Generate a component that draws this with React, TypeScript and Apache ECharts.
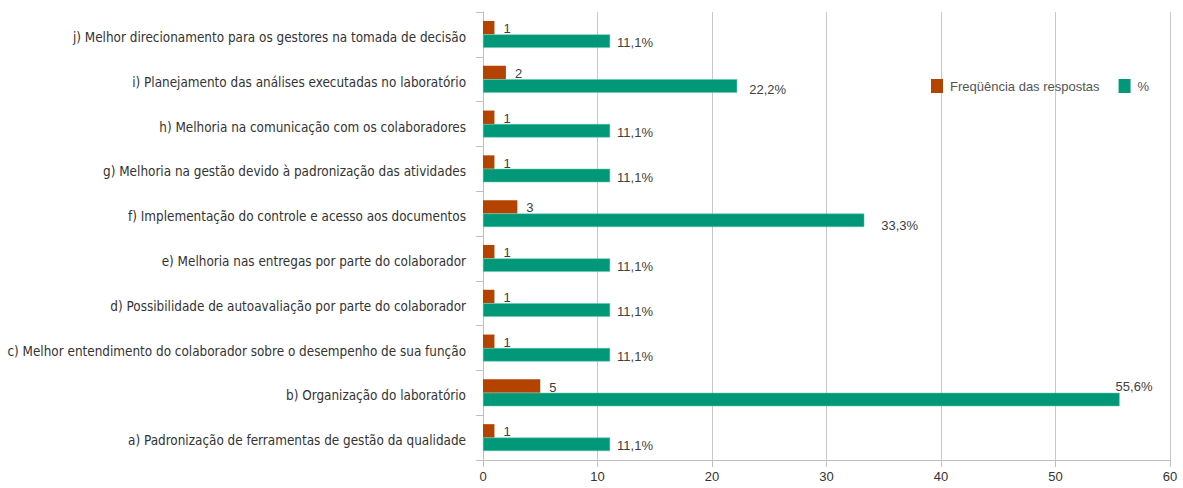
import React, { useEffect, useRef } from "react";
import * as echarts from "echarts";

const categories = [
  "a) Padronização de ferramentas de gestão da qualidade",
  "b) Organização do laboratório",
  "c) Melhor entendimento do colaborador sobre o desempenho de sua função",
  "d) Possibilidade de autoavaliação por parte do colaborador",
  "e) Melhoria nas entregas por parte do colaborador",
  "f) Implementação do controle e acesso aos documentos",
  "g) Melhoria na gestão devido à padronização das atividades",
  "h) Melhoria na comunicação com os colaboradores",
  "i) Planejamento das análises executadas no laboratório",
  "j) Melhor direcionamento para os gestores na tomada de decisão",
];
const frequencia = [1, 5, 1, 1, 1, 3, 1, 1, 2, 1];
const percentual = [11.1, 55.6, 11.1, 11.1, 11.1, 33.3, 11.1, 11.1, 22.2, 11.1];
const xTicks = { min: 0, max: 60, interval: 10 };
const seriesNames = ["Freqüência das respostas", "%"];

const LABEL_FONT = "'Liberation Sans Narrow', 'DejaVu Sans Condensed', sans-serif";
const TEXT_FONT = "'Liberation Sans', Arial, sans-serif";

export default function App() {
  const ref = useRef<HTMLDivElement>(null);
  useEffect(() => {
    if (!ref.current) return;
    const chart = echarts.init(ref.current, null, { renderer: "svg" });
    const maxIdx = percentual.indexOf(Math.max(...percentual));
    chart.setOption({
      animation: false,
      grid: {
        left: 483,
        right: 13,
        top: 12,
        bottom: 28,
        containLabel: false,
        outerBoundsMode: "none",
      },
      legend: {
        data: seriesNames,
        left: 926,
        top: 74,
        itemWidth: 12,
        itemHeight: 14,
        itemGap: 19,
        icon: "rect",
        itemStyle: { borderWidth: 0 },
        textStyle: { color: "#555", fontSize: 13, fontFamily: TEXT_FONT, padding: [3, 0, 0, 2] },
      },
      xAxis: {
        type: "value",
        min: xTicks.min,
        max: xTicks.max,
        interval: xTicks.interval,
        axisLine: { show: true, lineStyle: { color: "#bfbfbf" } },
        axisTick: { show: true, length: 7, lineStyle: { color: "#bfbfbf" } },
        axisLabel: { color: "#333", fontSize: 13, fontFamily: TEXT_FONT, margin: 10 },
        splitLine: { show: true, lineStyle: { color: "#c8c8c8" } },
      },
      yAxis: {
        type: "category",
        data: categories,
        axisLine: { show: true, lineStyle: { color: "#bfbfbf" } },
        axisTick: { show: true, length: 7, lineStyle: { color: "#bfbfbf" } },
        axisLabel: {
          color: "#333",
          fontSize: 13.4,
          fontFamily: LABEL_FONT,
          margin: 17,
          formatter: (v: string) => "{c|" + v + "}",
          rich: {
            c: {
              color: "#333",
              fontSize: 13.4,
              fontFamily: LABEL_FONT,
              padding: [6, 0, 0, 0],
            },
          },
        },
        splitLine: { show: false },
      },
      series: [
        {
          name: seriesNames[0],
          type: "bar",
          data: frequencia,
          barGap: "0%",
          barCategoryGap: "40%",
          itemStyle: { color: "#B54300" },
          label: {
            show: true,
            position: "right",
            distance: 9,
            offset: [0, 1],
            color: "#404040",
            fontSize: 13,
            fontFamily: TEXT_FONT,
          },
        },
        {
          name: seriesNames[1],
          type: "bar",
          data: percentual.map((v, i) =>
            i === maxIdx
              ? { value: v, label: { offset: [-6, -13] } }
              : { value: v, label: { offset: [0.45 * v, 0.18 * v - 0.5] } }
          ),
          barGap: "0%",
          barCategoryGap: "40%",
          itemStyle: { color: "#009878", borderColor: "#5cc4a8", borderWidth: 0.5 },
          label: {
            show: true,
            position: "right",
            distance: 2,
            color: "#404040",
            fontSize: 13,
            fontFamily: TEXT_FONT,
            formatter: (p: any) => String(p.value).replace(".", ",") + "%",
          },
        },
      ],
    });
    return () => chart.dispose();
  }, []);
  return (
    <div
      ref={ref}
      style={{ position: "fixed", left: 0, top: 0, width: 1183, height: 488, background: "#fff" }}
    />
  );
}
